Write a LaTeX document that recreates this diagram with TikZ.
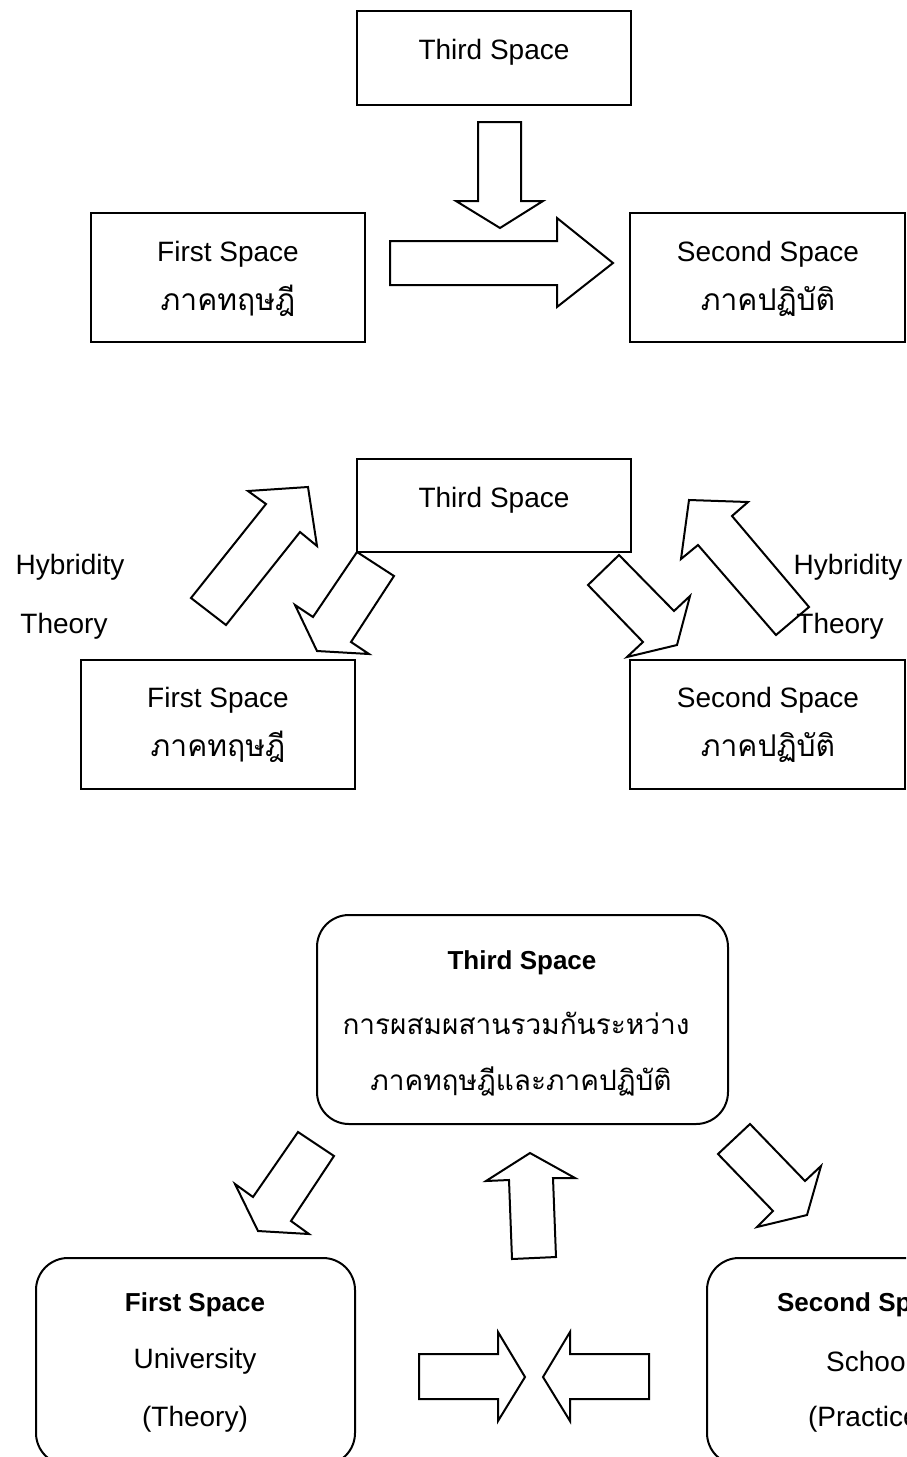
\documentclass[tikz,border=0pt]{standalone}
\usepackage{fontspec}
\setmainfont{Liberation Sans}
\newfontfamily\thaifont[Script=Thai]{Loma}
\tikzset{sbox/.style={draw,line width=1pt,inner sep=0pt},
  rbox/.style={sbox,rounded corners=16pt},
  lbl/.style={font=\fontsize{14}{17}\selectfont},
  blbl/.style={font=\fontsize{13}{16}\selectfont\bfseries},
  tlbl/.style={font=\fontsize{15}{18}\selectfont\thaifont},
  tlbls/.style={font=\fontsize{14}{17}\selectfont\thaifont},
  barrow/.style={draw,line width=1pt,line join=miter}}

\begin{document}
\begin{tikzpicture}[x=0.5pt,y=-0.5pt]
\useasboundingbox (0,0) rectangle (906,1457);
\clip (0,0) rectangle (906,1457);

% first picture
\node (third1) [sbox, minimum width=137pt, minimum height=47pt] at (494,58) {};
\node (third1t) [lbl] at (494,52) {Third Space};
\node (first1) [sbox, minimum width=137pt, minimum height=64.5pt] at (228,277.5) {};
\node (first1t) [lbl] at (228,254) {First Space};
\node (first1th) [tlbl] at (228,301) {ภาคทฤษฎี};
\node (second1) [sbox, minimum width=137.5pt, minimum height=64.5pt] at (767.5,277.5) {};
\node (second1t) [lbl] at (768,254) {Second Space};
\node (second1th) [tlbl] at (768,301) {ภาคปฏิบัติ};

\draw[barrow] (478,122) -- (478,201) -- (456,201) -- (500,228) -- (543,201) -- (521,201) -- (521,122) -- cycle;
\draw[barrow] (390,241) -- (557,241) -- (557,218) -- (613,263) -- (557,307) -- (557,285) -- (390,285) -- cycle;

% second picture
\node (third2) [sbox, minimum width=137pt, minimum height=46.5pt] at (494,505.5) {};
\node (third2t) [lbl] at (494,500) {Third Space};
\node (first2) [sbox, minimum width=137pt, minimum height=64.5pt] at (218,724.5) {};
\node (first2t) [lbl] at (218,700) {First Space};
\node (first2th) [tlbl] at (218,747) {ภาคทฤษฎี};
\node (second2) [sbox, minimum width=137.5pt, minimum height=64.5pt] at (767.5,724.5) {};
\node (second2t) [lbl] at (768,700) {Second Space};
\node (second2th) [tlbl] at (768,747) {ภาคปฏิบัติ};
\node (hyb1) [lbl] at (70,567) {Hybridity};
\node (theo1) [lbl] at (64,626) {Theory};
\node (hyb2) [lbl] at (848,567) {Hybridity};
\node (theo2) [lbl] at (840,626) {Theory};

\draw[barrow] (191,598) -- (266,504) -- (248,491) -- (308,487) -- (317,546) -- (300,532) -- (226,625) -- cycle;
\draw[barrow] (357,552) -- (313,617) -- (295,605) -- (317,651) -- (369,654) -- (351,642) -- (394,576) -- cycle;
\draw[barrow] (619,555) -- (674,611) -- (690,596) -- (677,645) -- (627,657) -- (643,642) -- (588,585) -- cycle;
\draw[barrow] (776,635) -- (698,545) -- (681,559) -- (689,500) -- (748,502) -- (732,516) -- (809,607) -- cycle;

% third picture
\node (third3) [rbox, minimum width=205.5pt, minimum height=104.5pt] at (522.5,1019.5) {};
\node (third3t) [blbl] at (522,963) {Third Space};
\node (third3a) [tlbls] at (516,1023) {การผสมผสานรวมกันระหว่าง};
\node (third3b) [tlbls] at (521,1081) {ภาคทฤษฎีและภาคปฏิบัติ};
\node (first3) [rbox, minimum width=159.5pt, minimum height=103.5pt] at (195.5,1361.5) {};
\node (first3t) [blbl] at (195,1305) {First Space};
\node (first3a) [lbl] at (195,1361) {University};
\node (first3b) [lbl] at (195,1419) {(Theory)};
\node (second3) [rbox, minimum width=159.5pt, minimum height=103.5pt] at (866.5,1361.5) {};
\node (second3t) [blbl] at (866,1305) {Second Space};
\node (second3a) [lbl] at (869,1361) {School};
\node (second3b) [lbl] at (868,1419) {(Practice)};

\draw[barrow] (298,1132) -- (253,1197) -- (235,1184) -- (258,1231) -- (309,1234) -- (291,1221) -- (334,1156) -- cycle;
\draw[barrow] (512,1259) -- (509,1180) -- (486,1181) -- (530,1153) -- (575,1178) -- (553,1178) -- (556,1257) -- cycle;
\draw[barrow] (750,1124) -- (805,1181) -- (821,1166) -- (807,1215) -- (757,1227) -- (773,1211) -- (718,1154) -- cycle;
\draw[barrow] (419,1354) -- (498,1354) -- (498,1332) -- (525,1377) -- (498,1421) -- (498,1399) -- (419,1399) -- cycle;
\draw[barrow] (649,1354) -- (570,1354) -- (570,1332) -- (543,1377) -- (570,1421) -- (570,1399) -- (649,1399) -- cycle;
\end{tikzpicture}
\end{document}
